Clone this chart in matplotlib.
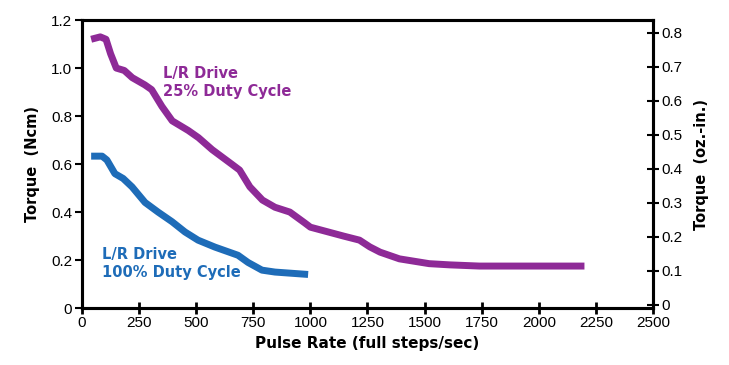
import numpy as np
import matplotlib.pyplot as plt

# pulse rate (full steps/sec) vs torque (Ncm)
rate_25 = [40, 80, 105, 125, 150, 185, 220, 275, 305, 350, 395, 465, 510, 570, 655,
           690, 735, 790, 845, 910, 975, 1000, 1145, 1215, 1260, 1305, 1390, 1520,
           1610, 1740, 2200]
torque_25 = [1.12, 1.13, 1.12, 1.06, 1.00, 0.99, 0.96, 0.93, 0.91, 0.84, 0.78, 0.74,
             0.71, 0.66, 0.60, 0.575, 0.505, 0.45, 0.42, 0.40, 0.355, 0.337, 0.30,
             0.283, 0.255, 0.233, 0.205, 0.185, 0.18, 0.175, 0.175]

rate_100 = [40, 88, 109, 144, 180, 219, 276, 333, 394, 451, 508, 582, 683, 727,
            788, 845, 990]
torque_100 = [0.633, 0.633, 0.617, 0.56, 0.54, 0.505, 0.44, 0.40, 0.36, 0.317,
              0.283, 0.254, 0.22, 0.19, 0.158, 0.15, 0.14]

x_ticks = [0, 250, 500, 750, 1000, 1250, 1500, 1750, 2000, 2250, 2500]
y_ticks = [0, 0.2, 0.4, 0.6, 0.8, 1.0, 1.2]
y_labels = ['0', '0.2', '0.4', '0.6', '0.8', '1.0', '1.2']
oz_ticks = [0, 0.1, 0.2, 0.3, 0.4, 0.5, 0.6, 0.7, 0.8]
oz_labels = ['0', '0.1', '0.2', '0.3', '0.4', '0.5', '0.6', '0.7', '0.8']

PURPLE = '#8E2A97'
BLUE = '#1E6CB8'
TICK_FONT = 'Liberation Sans'

fig = plt.figure(figsize=(7.29, 3.65), dpi=100)
ax = fig.add_axes([0.1125, 0.156, 0.7832, 0.789])

ax.plot(rate_25, torque_25, color=PURPLE, lw=5, solid_joinstyle='round',
        solid_capstyle='butt')
ax.plot(rate_100, torque_100, color=BLUE, lw=5, solid_joinstyle='round',
        solid_capstyle='butt')

ax.set_xlim(0, 2500)
ax.set_ylim(0, 1.2)
ax.set_xticks(x_ticks)
ax.set_yticks(y_ticks)
ax.set_yticklabels(y_labels)
for s in ax.spines.values():
    s.set_linewidth(2.2)
ax.tick_params(axis='x', direction='inout', length=8, width=2, labelsize=11, pad=2)
ax.tick_params(axis='y', direction='out', length=5, width=1.5, labelsize=11, pad=2)
for lab in ax.get_xticklabels() + ax.get_yticklabels():
    lab.set_fontfamily(TICK_FONT)

ax.set_xlabel('Pulse Rate (full steps/sec)', fontsize=11, fontweight='bold', labelpad=4)
ax.set_ylabel('Torque  (Ncm)', fontsize=10.5, fontweight='bold', labelpad=8)

ax2 = ax.twinx()
ax2.set_ylim(-0.009, 0.838)
ax2.set_yticks(oz_ticks)
ax2.set_yticklabels(oz_labels)
ax2.tick_params(axis='y', direction='inout', length=8, width=1.5, labelsize=11, pad=2)
for lab in ax2.get_yticklabels():
    lab.set_fontfamily(TICK_FONT)
for s in ax2.spines.values():
    s.set_linewidth(2.2)
ax2.set_ylabel('Torque  (oz.-in.)', fontsize=10.5, fontweight='bold', labelpad=8)

ax.text(355, 0.94, 'L/R Drive\n25% Duty Cycle', color=PURPLE, fontsize=10.5,
        fontweight='bold', va='center', ha='left', linespacing=1.3)
ax.text(87, 0.185, 'L/R Drive\n100% Duty Cycle', color=BLUE, fontsize=10.5,
        fontweight='bold', va='center', ha='left', linespacing=1.3)

fig.savefig('out.png', dpi=100)
